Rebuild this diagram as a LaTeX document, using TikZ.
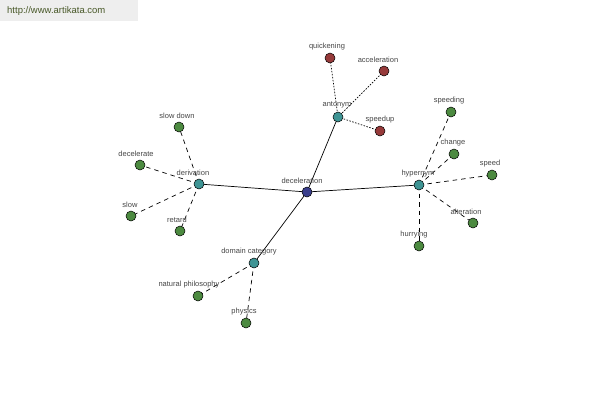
\documentclass[tikz,border=0pt]{standalone}
\usepackage{fontspec}
\setmainfont{Liberation Sans}
\begin{document}
\begin{tikzpicture}[x=1pt,y=-1pt,
  dot/.style={circle,draw=black,line width=0.5pt,minimum size=10pt,inner sep=0pt},
  hub/.style={dot,fill=hubc},
  root/.style={dot,fill=rootc},
  leaf/.style={dot,fill=leafc},
  ant/.style={dot,fill=antc},
  lab/.style={font=\fontsize{7.5}{9}\selectfont,text=labc,inner sep=0pt},
  main/.style={draw=black,line width=0.7pt},
  dsh/.style={draw=black,line width=0.7pt,dash pattern=on 4.5pt off 4pt},
  dtt/.style={draw=black,line width=0.7pt,dash pattern=on 1.5pt off 1.5pt}]
\definecolor{hubc}{RGB}{62,148,148}
\definecolor{rootc}{RGB}{58,62,140}
\definecolor{leafc}{RGB}{76,138,64}
\definecolor{antc}{RGB}{150,58,58}
\definecolor{labc}{RGB}{70,70,70}
\definecolor{wmbg}{RGB}{238,238,238}
\definecolor{wmtxt}{RGB}{72,88,40}
\useasboundingbox (0,0) rectangle (600,400);
\fill[white] (0,0) rectangle (600,400);
\fill[wmbg] (0,0) rectangle (138,21);
\node[font=\fontsize{9.5}{11}\selectfont,text=wmtxt,anchor=west,inner sep=0pt] (wm) at (7,11) {http://www.artikata.com};
% coordinates
\coordinate (cdec) at (307,192);
\coordinate (cant) at (338,117);
\coordinate (cqui) at (330,58);
\coordinate (cacc) at (384,71);
\coordinate (cspu) at (380,131);
\coordinate (cder) at (199,184);
\coordinate (csld) at (179,127);
\coordinate (cdel) at (140,165);
\coordinate (cslo) at (131,216);
\coordinate (cret) at (180,231);
\coordinate (chyp) at (419,185);
\coordinate (cspg) at (451,112);
\coordinate (ccha) at (454,154);
\coordinate (cspd) at (492,175);
\coordinate (calt) at (473,223);
\coordinate (chur) at (419,246);
\coordinate (cdom) at (254,263);
\coordinate (cnat) at (198,296);
\coordinate (cphy) at (246,323);
% edges
\draw[main] (cdec) -- (cant);
\draw[main] (cdec) -- (cder);
\draw[main] (cdec) -- (chyp);
\draw[main] (cdec) -- (cdom);
\draw[dtt] (cant) -- (cqui);
\draw[dtt] (cant) -- (cacc);
\draw[dtt] (cant) -- (cspu);
\draw[dsh] (cder) -- (csld);
\draw[dsh] (cder) -- (cdel);
\draw[dsh] (cder) -- (cslo);
\draw[dsh] (cder) -- (cret);
\draw[dsh] (chyp) -- (cspg);
\draw[dsh] (chyp) -- (ccha);
\draw[dsh] (chyp) -- (cspd);
\draw[dsh] (chyp) -- (calt);
\draw[dsh] (chyp) -- (chur);
\draw[dsh] (cdom) -- (cnat);
\draw[dsh] (cdom) -- (cphy);
% nodes
\node[root] (dec) at (cdec) {};
\node[hub] (ant) at (cant) {};
\node[ant] (qui) at (cqui) {};
\node[ant] (acc) at (cacc) {};
\node[ant] (spu) at (cspu) {};
\node[hub] (der) at (cder) {};
\node[leaf] (sld) at (csld) {};
\node[leaf] (del) at (cdel) {};
\node[leaf] (slo) at (cslo) {};
\node[leaf] (ret) at (cret) {};
\node[hub] (hyp) at (chyp) {};
\node[leaf] (spg) at (cspg) {};
\node[leaf] (cha) at (ccha) {};
\node[leaf] (spd) at (cspd) {};
\node[leaf] (alt) at (calt) {};
\node[leaf] (hur) at (chur) {};
\node[hub] (dom) at (cdom) {};
\node[leaf] (nat) at (cnat) {};
\node[leaf] (phy) at (cphy) {};
% labels
\node[lab] (ldec) at (302,181) {deceleration};
\node[lab] (lant) at (337,105) {antonym};
\node[lab] (lqui) at (327,47) {quickening};
\node[lab] (lacc) at (378,60) {acceleration};
\node[lab] (lspu) at (380,120) {speedup};
\node[lab] (lder) at (193,173) {derivation};
\node[lab] (lsld) at (177,116) {slow down};
\node[lab] (ldel) at (136,154) {decelerate};
\node[lab] (lslo) at (130,205) {slow};
\node[lab] (lret) at (177,220) {retard};
\node[lab] (lhyp) at (418,174) {hypernym};
\node[lab] (lspg) at (449,101) {speeding};
\node[lab] (lcha) at (453,143) {change};
\node[lab] (lspd) at (490,164) {speed};
\node[lab] (lalt) at (466,212) {alteration};
\node[lab] (lhur) at (414,235) {hurrying};
\node[lab] (ldom) at (249,252) {domain category};
\node[lab] (lnat) at (189,285) {natural philosophy};
\node[lab] (lphy) at (244,312) {physics};
\end{tikzpicture}
\end{document}
